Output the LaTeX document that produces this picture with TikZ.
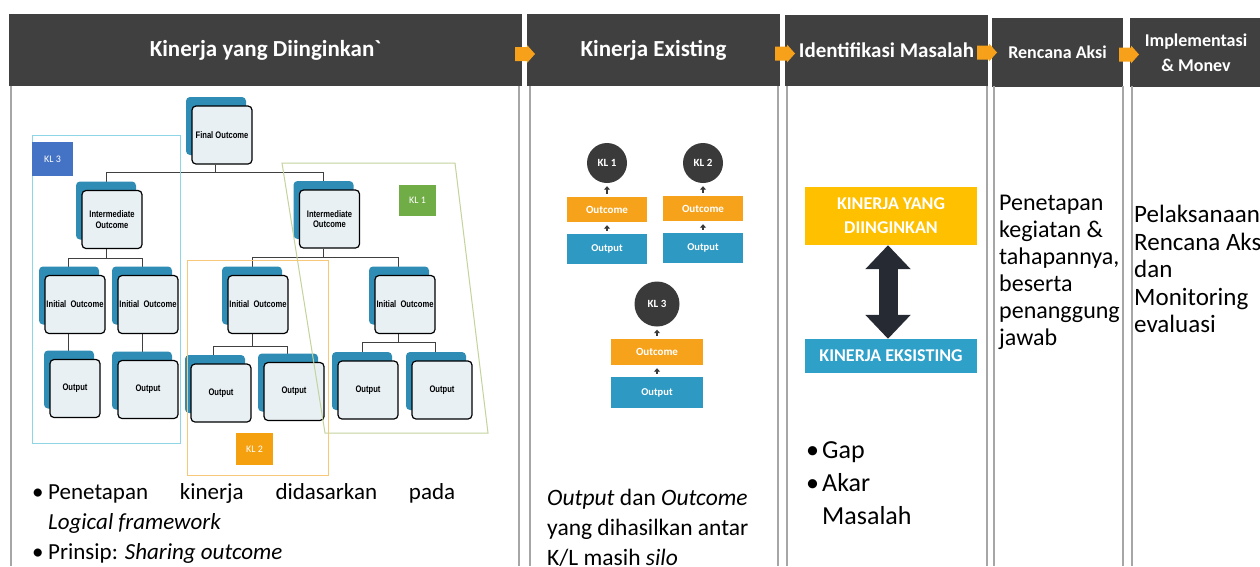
\documentclass[tikz,border=0pt]{standalone}
\usepackage{fontspec}
\setmainfont{Carlito}
\newfontfamily\narrowfont[FakeStretch=0.8]{Liberation Sans}
\usetikzlibrary{shadows,arrows.meta,backgrounds}

\definecolor{hdrgray}{HTML}{404040}
\definecolor{linegray}{HTML}{A6A6A6}
\definecolor{arrorange}{HTML}{F7A11A}
\definecolor{treeblue}{HTML}{2F8DB5}
\definecolor{treelight}{HTML}{E8F0F4}
\definecolor{klblue}{HTML}{4472C4}
\definecolor{klgreen}{HTML}{70AD47}
\definecolor{klorange}{HTML}{F5A00F}
\definecolor{framecyan}{HTML}{8ED6E6}
\definecolor{framegreen}{HTML}{C2D49C}
\definecolor{frameorange}{HTML}{F6C878}
\definecolor{circdark}{HTML}{3A3A3A}
\definecolor{ocorange}{HTML}{F7A21B}
\definecolor{opblue}{HTML}{2E9AC4}
\definecolor{wantyellow}{HTML}{FFC000}
\definecolor{existblue}{HTML}{2FA0C8}
\definecolor{arrdark}{HTML}{262A33}

\tikzset{
	header/.style={fill=hdrgray, text=white, inner sep=0pt, align=center},
	colline/.style={draw=linegray, line width=1.5pt},
	stepmark/.style={fill=arrorange},
	treebox/.style={draw=black, line width=1.2pt, rounded corners=4pt, fill=treelight,
		minimum width=60pt, minimum height=58pt, inner sep=1pt, align=center,
		font=\narrowfont\bfseries\fontsize{9.5}{10.5}\selectfont,
		copy shadow={shadow xshift=-6pt, shadow yshift=9pt, fill=treeblue, draw=none}},
	tline/.style={draw=black!75, line width=1pt},
	kltag/.style={text=white, minimum width=37pt, minimum height=32pt, inner sep=0pt,
		font=\fontsize{10}{12}\selectfont},
	klframe/.style={line width=1pt},
	klcirc/.style={circle, fill=circdark, text=white, inner sep=0pt,
		font=\bfseries\fontsize{11}{12}\selectfont},
	ocbox/.style={fill=ocorange, text=white, minimum width=80pt, minimum height=25pt,
		inner sep=0pt, font=\bfseries\fontsize{11}{12}\selectfont},
	opbox/.style={fill=opblue, text=white, minimum width=80pt, minimum height=30pt,
		inner sep=0pt, font=\bfseries\fontsize{10.5}{12}\selectfont},
	uparr/.style={-{Triangle[width=6pt,length=3.5pt]}, line width=2pt, draw=circdark,
		shorten <=3pt, shorten >=3pt},
	dblarr/.style={{Triangle[width=44pt,length=24pt]}-{Triangle[width=44pt,length=24pt]},
		line width=19pt, draw=arrdark},
	bigbox/.style={text=white, minimum width=172pt, inner sep=0pt, align=center,
		font=\bfseries\fontsize{18}{24}\selectfont},
	bodytext/.style={anchor=north west, inner sep=0pt, align=left}
}

\begin{document}
\begin{tikzpicture}[x=1pt, y=-1pt]
	\useasboundingbox (0,0) rectangle (1260,566);
	\clip (0,0) rectangle (1260,566);

	% headers
	\node[header, minimum width=513pt, minimum height=72pt, font=\bfseries\fontsize{23}{28}\selectfont] (h1) at (265.5,50) {Kinerja yang Diinginkan\textasciigrave};
	\node[header, minimum width=253pt, minimum height=72pt, font=\bfseries\fontsize{23}{28}\selectfont] (h2) at (653.5,50) {Kinerja Existing};
	\node[header, minimum width=203pt, minimum height=71pt, font=\bfseries\fontsize{21}{26}\selectfont] (h3) at (886.5,50.5) {Identifikasi Masalah};
	\node[header, minimum width=131pt, minimum height=69pt, font=\bfseries\fontsize{18}{24}\selectfont] (h4) at (1057.5,52.5) {Rencana Aksi};
	\node[header, minimum width=132pt, minimum height=69pt, font=\bfseries\fontsize{18}{25}\selectfont] (h5) at (1196,52.5) {Implementasi\\\& Monev};

	% step arrows between headers
	\foreach \ax/\ay in {515/54, 775/53.5, 977/52.5, 1119/54.5}
		\fill[stepmark] (\ax,\ay-7) -- (\ax+12,\ay-7) -- (\ax+12,\ay-9) -- (\ax+20,\ay)
			-- (\ax+12,\ay+9) -- (\ax+12,\ay+7) -- (\ax,\ay+7) -- cycle;

	% column borders
	\foreach \cx in {11, 519, 530, 778, 787, 987, 994, 1123, 1132}
		\draw[colline] (\cx,86) -- (\cx,566);

	% logical framework tree
	\node[treebox] (final) at (222,135) {Final Outcome};
	\node[treebox] (int1) at (112,219.5) {Intermediate\\Outcome};
	\node[treebox] (int2) at (329.5,219) {Intermediate\\Outcome};
	\node[treebox] (ini1) at (75,304.5) {Initial~~Outcome};
	\node[treebox] (ini2) at (148,304.5) {Initial~~Outcome};
	\node[treebox] (ini3) at (258,304.5) {Initial~~Outcome};
	\node[treebox] (ini4) at (405,304.5) {Initial~~Outcome};
	\node[treebox, minimum width=50pt] (out1) at (75,388.5) {Output};
	\node[treebox] (out2) at (148,389.5) {Output};
	\node[treebox] (out3) at (221,393) {Output};
	\node[treebox] (out4) at (294,391.5) {Output};
	\node[treebox] (out5) at (368,390) {Output};
	\node[treebox] (out6) at (442,390) {Output};

	\begin{scope}[on background layer]
		\fill[white] (0,0) rectangle (1260,566);
		\draw[tline] ([xshift=-7pt]final.south) -- ++(0,8) -| ([xshift=-6pt]int1.north);
		\draw[tline] ([xshift=-7pt]final.south) -- ++(0,8) -| ([xshift=-6pt]int2.north);
		\draw[tline] ([xshift=-6pt]int1.south) -- ++(0,9) -| ([xshift=-7pt]ini1.north);
		\draw[tline] ([xshift=-6pt]int1.south) -- ++(0,9) -| ([xshift=-6pt]ini2.north);
		\draw[tline] ([xshift=-6pt]int2.south) -- ++(0,9) -| ([xshift=-6pt]ini3.north);
		\draw[tline] ([xshift=-6pt]int2.south) -- ++(0,9) -| ([xshift=-7pt]ini4.north);
		\draw[tline] ([xshift=-7pt]ini1.south) -- ([xshift=-7pt]out1.north);
		\draw[tline] ([xshift=-6pt]ini2.south) -- ([xshift=-6pt]out2.north);
		\draw[tline] ([xshift=-6pt]ini3.south) -- ++(0,12) -| ([xshift=-8pt]out3.north);
		\draw[tline] ([xshift=-6pt]ini3.south) -- ++(0,12) -| ([xshift=-7pt]out4.north);
		\draw[tline] ([xshift=-7pt]ini4.south) -- ++(0,8) -| ([xshift=-6pt]out5.north);
		\draw[tline] ([xshift=-7pt]ini4.south) -- ++(0,8) -| ([xshift=-7pt]out6.north);
	\end{scope}

	% K/L groupings
	\draw[klframe, draw=framecyan] (32,135) rectangle (180,443);
	\draw[klframe, draw=framegreen] (282,163) -- (455,163) -- (488,433) -- (325,433) -- cycle;
	\draw[klframe, draw=frameorange] (187,260) rectangle (328,475);
	\node[kltag, fill=klblue, minimum width=41pt, minimum height=34pt] (kl3tag) at (52.5,159) {KL 3};
	\node[kltag, fill=klgreen, minimum height=31pt] (kl1tag) at (417.5,200.5) {KL 1};
	\node[kltag, fill=klorange] (kl2tag) at (254.5,449) {KL 2};

	\node[bodytext, text width=423pt, align=justify, font=\fontsize{23}{30}\selectfont] (notes1) at (32,483)
		{\hangindent=16pt\makebox[16pt][l]{\textbullet}Penetapan kinerja didasarkan pada\linebreak\textit{Logical framework}\par
		\hangindent=16pt\makebox[16pt][l]{\textbullet}Prinsip: \textit{Sharing outcome}};

	% kinerja existing
	\node[klcirc, minimum size=40pt] (kl1) at (607,163) {KL 1};
	\node[ocbox] (oc1) at (607,209.5) {Outcome};
	\node[opbox] (op1) at (607,249) {Output};
	\node[klcirc, minimum size=40pt] (kl2) at (703,163) {KL 2};
	\node[ocbox] (oc2) at (703,208.5) {Outcome};
	\node[opbox] (op2) at (703,248) {Output};
	\node[klcirc, minimum size=45pt] (kl3) at (657,304) {KL 3};
	\node[ocbox, minimum width=92pt, minimum height=26pt] (oc3) at (657,352) {Outcome};
	\node[opbox, minimum width=92pt, minimum height=31pt] (op3) at (657,392.5) {Output};
	\draw[uparr] (oc1.north) -- (kl1.south);
	\draw[uparr] (op1.north) -- (oc1.south);
	\draw[uparr] (oc2.north) -- (kl2.south);
	\draw[uparr] (op2.north) -- (oc2.south);
	\draw[uparr] (oc3.north) -- (kl3.south);
	\draw[uparr] (op3.north) -- (oc3.south);

	\node[bodytext, font=\fontsize{23.5}{30}\selectfont] (notes2) at (547,489)
		{\textit{Output} dan \textit{Outcome}\\yang dihasilkan antar\\K/L masih \textit{silo}};

	% identifikasi masalah
	\node[bigbox, fill=wantyellow, minimum height=58pt] (want) at (891,216) {KINERJA YANG\\DIINGINKAN};
	\node[bigbox, fill=existblue, minimum height=34pt] (exist) at (891,356) {KINERJA EKSISTING};
	\draw[dblarr] ([xshift=-3pt]want.south) -- ([xshift=-3pt]exist.north);

	\node[bodytext, font=\fontsize{26}{33}\selectfont] (notes3) at (806,441)
		{\makebox[16pt][l]{\textbullet}Gap\\\makebox[16pt][l]{\textbullet}Akar\\\hspace*{16pt}Masalah};

	% rencana aksi, implementasi
	\node[bodytext, font=\fontsize{24}{27}\selectfont] (notes4) at (999,195)
		{Penetapan\\kegiatan \&\\tahapannya,\\beserta\\penanggung\\jawab};
	\node[bodytext, font=\fontsize{25}{27.5}\selectfont] (notes5) at (1134,205)
		{Pelaksanaan\\Rencana Aksi\\dan\\Monitoring\\evaluasi};
\end{tikzpicture}
\end{document}
